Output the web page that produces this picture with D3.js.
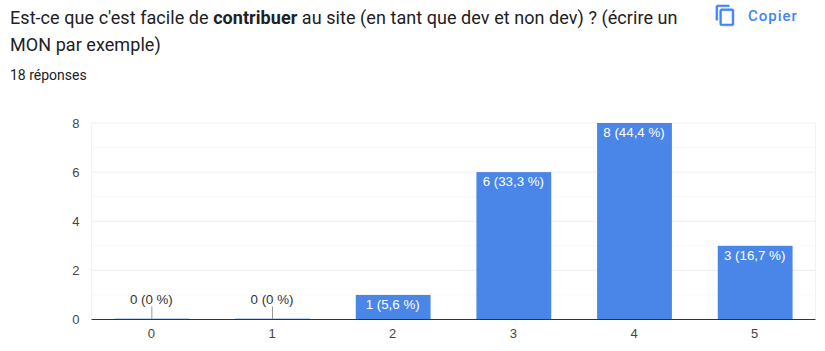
<!DOCTYPE html>
<html>
<head>
<meta charset="utf-8">
<script src="https://cdn.jsdelivr.net/npm/d3@7"></script>
<style>
  html, body { margin: 0; padding: 0; background: #fff; }
  svg { display: block; }
</style>
</head>
<body>
<svg id="chart" width="825" height="351"></svg>
<script>
"use strict";

const categories = [ '0', '1', '2', '3', '4', '5' ];
const counts     = [ 0, 0, 1, 6, 8, 3 ];
const percents   = [ '0', '0', '5,6', '33,3', '44,4', '16,7' ];
const yTicks     = [ 0, 2, 4, 6, 8 ];
const yMinor     = [ 1, 3, 5, 7 ];

const width = 825, height = 351;
const plot = { left: 91.5, right: 815.5, top: 123, bottom: 319.5 };

const svg = d3.select( '#chart' )
              .attr( 'viewBox', '0 0 ' + width + ' ' + height );

// header
const title = svg.append( 'text' )
    .attr( 'font-family', 'Roboto' )
    .attr( 'font-size', 18 )
    .attr( 'letter-spacing', 0.06 )
    .attr( 'fill', '#202124' );
const line1 = title.append( 'tspan' ).attr( 'x', 10 ).attr( 'y', 24 );
line1.append( 'tspan' ).text( "Est-ce que c'est facile de " );
line1.append( 'tspan' ).attr( 'font-weight', 700 ).text( 'contribuer' );
line1.append( 'tspan' ).text( ' au site (en tant que dev et non dev) ? (écrire un' );
title.append( 'tspan' ).attr( 'x', 10 ).attr( 'y', 51 ).text( 'MON par exemple)' );

svg.append( 'text' )
    .attr( 'x', 10 )
    .attr( 'y', 80 )
    .attr( 'font-family', 'Roboto' )
    .attr( 'font-size', 14 )
    .attr( 'fill', '#202124' )
    .text( '18 réponses' );

// copy button
svg.append( 'path' )
    .attr( 'transform', 'translate(714,4) scale(0.95)' )
    .attr( 'fill', '#4285f4' )
    .attr( 'stroke', '#4285f4' )
    .attr( 'stroke-width', 0.5 )
    .attr( 'd', 'M16 1H4c-1.1 0-2 .9-2 2v14h2V3h12V1zm3 4H8c-1.1 0-2 .9-2 2v14c0 1.1.9 2 2 2h11c1.1 0 2-.9 2-2V7c0-1.1-.9-2-2-2zm0 16H8V7h11v14z' );

svg.append( 'text' )
    .attr( 'x', 748 )
    .attr( 'y', 21 )
    .attr( 'font-family', 'Roboto' )
    .attr( 'font-size', 15 )
    .attr( 'font-weight', 500 )
    .attr( 'letter-spacing', 1 )
    .attr( 'fill', '#4285f4' )
    .text( 'Copier' );

// scales
const x = d3.scaleBand()
    .domain( categories )
    .range( [ plot.left, plot.right ] )
    .paddingInner( 0.38 )
    .paddingOuter( 0.19 );

const y = d3.scaleLinear()
    .domain( [ 0, 8 ] )
    .range( [ plot.bottom, plot.top ] );

// grid
svg.append( 'g' )
  .selectAll( 'line' )
  .data( yMinor )
  .enter().append( 'line' )
    .attr( 'x1', plot.left )
    .attr( 'x2', plot.right )
    .attr( 'y1', (d) => y( d ) )
    .attr( 'y2', (d) => y( d ) )
    .attr( 'stroke', '#f8f8f8' );

svg.append( 'g' )
  .selectAll( 'line' )
  .data( yTicks.filter( (d) => d > 0 ) )
  .enter().append( 'line' )
    .attr( 'x1', plot.left )
    .attr( 'x2', plot.right )
    .attr( 'y1', (d) => y( d ) )
    .attr( 'y2', (d) => y( d ) )
    .attr( 'stroke', '#eeeeee' );

// side borders of the plot
svg.append( 'g' )
  .selectAll( 'line' )
  .data( [ plot.left, plot.right ] )
  .enter().append( 'line' )
    .attr( 'x1', (d) => d )
    .attr( 'x2', (d) => d )
    .attr( 'y1', plot.top )
    .attr( 'y2', plot.bottom )
    .attr( 'stroke', '#f2f2f2' );

// bars, the empty ones only leave a faint blue trace on the baseline
const rows = categories.map( (c, i) => ({ cat: c, count: counts[i], pct: percents[i] }) );

svg.append( 'g' )
  .selectAll( 'rect' )
  .data( rows )
  .enter().append( 'rect' )
    .attr( 'x', (d) => x( d.cat ) )
    .attr( 'width', x.bandwidth() )
    .attr( 'y', (d) => d.count === 0 ? y( 0 ) - 1.5 : y( d.count ) )
    .attr( 'height', (d) => d.count === 0 ? 1.5 : y( 0 ) - y( d.count ) )
    .attr( 'fill', '#4a86e8' )
    .attr( 'fill-opacity', (d) => d.count === 0 ? 0.35 : 1 );

// stems for the empty bars
svg.append( 'g' )
  .selectAll( 'line' )
  .data( rows.filter( (d) => d.count === 0 ) )
  .enter().append( 'line' )
    .attr( 'x1', (d) => x( d.cat ) + x.bandwidth() / 2 )
    .attr( 'x2', (d) => x( d.cat ) + x.bandwidth() / 2 )
    .attr( 'y1', y( 0 ) - 13 )
    .attr( 'y2', y( 0 ) )
    .attr( 'stroke', '#999999' );

// baseline
svg.append( 'line' )
    .attr( 'x1', plot.left )
    .attr( 'x2', plot.right )
    .attr( 'y1', y( 0 ) )
    .attr( 'y2', y( 0 ) )
    .attr( 'stroke', '#333333' );

// value labels
svg.append( 'g' )
  .selectAll( 'text' )
  .data( rows )
  .enter().append( 'text' )
    .attr( 'x', (d) => x( d.cat ) + x.bandwidth() / 2 - 0.5 )
    .attr( 'y', (d) => d.count === 0 ? y( 0 ) - 15.5 : y( d.count ) + 14 )
    .attr( 'text-anchor', 'middle' )
    .attr( 'font-family', 'Liberation Sans' )
    .attr( 'font-size', 13.3 )
    .attr( 'fill', (d) => d.count === 0 ? '#333333' : '#ffffff' )
    .text( (d) => d.count + ' (' + d.pct + ' %)' );

// axes labels
const xAxis = d3.axisBottom( x ).tickSize( 0 ).tickPadding( 9 );
svg.append( 'g' )
    .attr( 'transform', 'translate(-0.5,' + plot.bottom + ')' )
    .call( xAxis )
    .call( (g) => g.select( '.domain' ).remove() )
    .call( (g) => g.selectAll( 'text' )
      .attr( 'font-family', 'Liberation Sans' )
      .attr( 'font-size', 13 )
      .attr( 'fill', '#444444' ) );

const yAxis = d3.axisLeft( y ).tickValues( yTicks ).tickSize( 0 ).tickPadding( 12 );
svg.append( 'g' )
    .attr( 'transform', 'translate(' + plot.left + ',0)' )
    .call( yAxis )
    .call( (g) => g.select( '.domain' ).remove() )
    .call( (g) => g.selectAll( 'text' )
      .attr( 'font-family', 'Liberation Sans' )
      .attr( 'font-size', 13 )
      .attr( 'fill', '#444444' ) );
</script>
</body>
</html>
